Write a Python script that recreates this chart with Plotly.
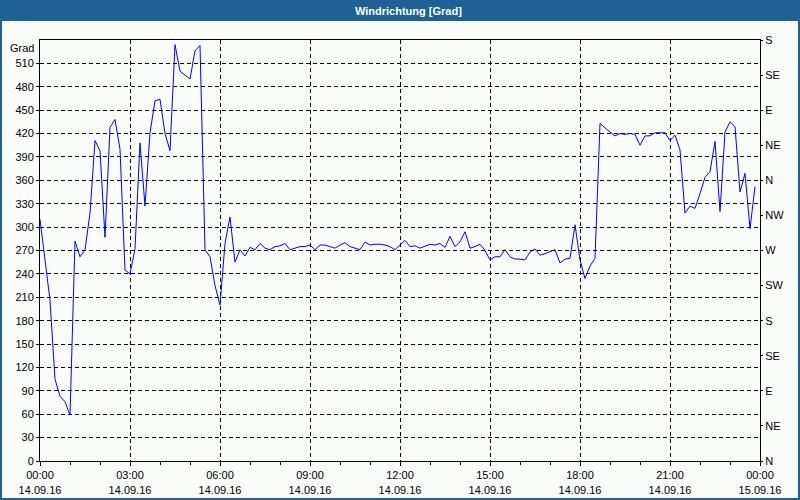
import pandas as pd
import plotly.graph_objects as go

# 10-minute readings, 14.09.16 00:00 .. 23:50
wind_dir = [
    310, 258, 206, 105, 83, 76, 59, 282, 262, 271,
    318, 411, 398, 287, 428, 438, 400, 245, 240, 272,
    408, 327, 421, 462, 464, 420, 398, 534, 500, 495,
    490, 526, 533, 271, 262, 225, 200, 279, 313, 255,
    271, 263, 274, 271, 279, 273, 271, 275, 276, 279,
    271, 273, 275, 275, 277, 271, 277, 277, 275, 273,
    277, 280, 275, 273, 271, 281, 277, 278, 278, 277,
    275, 271, 277, 283, 275, 276, 273, 276, 278, 277,
    279, 274, 288, 275, 281, 294, 273, 275, 278, 270,
    258, 262, 262, 271, 262, 259, 259, 258, 268, 272,
    264, 266, 268, 271, 254, 259, 260, 303, 258, 234,
    250, 260, 433, 427, 422, 417, 420, 419, 420, 419,
    405, 417, 417, 421, 421, 421, 411, 418, 399, 318,
    327, 324, 343, 364, 371, 410, 320, 422, 435, 429,
    345, 369, 298, 352,
]
times = pd.date_range("2016-09-14 00:00", periods=len(wind_dir), freq="10min")

x_tick_vals = pd.date_range("2016-09-14 00:00", "2016-09-15 00:00", freq="3h")
x_tick_text = ["00:00<br>14.09.16", "03:00<br>14.09.16", "06:00<br>14.09.16",
               "09:00<br>14.09.16", "12:00<br>14.09.16", "15:00<br>14.09.16",
               "18:00<br>14.09.16", "21:00<br>14.09.16", "00:00<br>15.09.16"]
y_tick_vals = list(range(0, 511, 30))
y2_tick_vals = list(range(0, 541, 45))
y2_tick_text = ["N", "NE", "E", "SE", "S", "SW", "W", "NW", "N", "NE", "E", "SE", "S"]

BG = "#f9fcf9"
FRAME = "#1d6196"
FONT = dict(family="Liberation Sans, Arial, sans-serif", size=11, color="black")

fig = go.Figure()
fig.add_trace(go.Scatter(x=times, y=wind_dir, mode="lines",
                         line=dict(color="#0000ff", width=1), hoverinfo="x+y"))
fig.add_trace(go.Scatter(x=times, y=wind_dir, mode="lines", yaxis="y2",
                         line=dict(color="rgba(0,0,0,0)", width=0), hoverinfo="skip"))

fig.update_layout(
    width=800, height=500,
    margin=dict(l=40, r=40, t=40, b=39, pad=0, autoexpand=False),
    paper_bgcolor=BG, plot_bgcolor=BG,
    showlegend=False,
    font=FONT,
    xaxis=dict(
        type="date", range=["2016-09-14 00:00", "2016-09-15 00:00"],
        tickmode="array", tickvals=list(x_tick_vals), ticktext=x_tick_text,
        ticks="outside", ticklen=4, tickcolor="black", tickfont=FONT,
        showgrid=True, gridcolor="black", gridwidth=1, griddash="4px,3px",
        showline=True, linecolor="black", linewidth=1, mirror=True,
        zeroline=False, fixedrange=True, automargin=False,
        minor=dict(dtick=3600000, ticks="outside", ticklen=3, tickcolor="black", showgrid=False),
    ),
    yaxis=dict(
        range=[0, 540], tickmode="array", tickvals=y_tick_vals,
        ticks="outside", ticklen=3, tickcolor="black", tickfont=FONT,
        showgrid=True, gridcolor="black", gridwidth=1, griddash="4px,3px",
        showline=True, linecolor="black", linewidth=1, mirror=True,
        zeroline=False, fixedrange=True, automargin=False,
    ),
    yaxis2=dict(
        range=[0, 540], overlaying="y", side="right",
        tickmode="array", tickvals=y2_tick_vals, ticktext=y2_tick_text,
        ticks="outside", ticklen=2, tickcolor="black", tickfont=FONT,
        showgrid=False, showline=False, zeroline=False, fixedrange=True,
        automargin=False,
    ),
)

# title bar and window frame (paper coords; plot area is 720x421 px at (40,40))
def px_x(p):
    return (p - 40) / 720.0

def px_y(p):
    return (461 - p) / 421.0

shapes = [
    dict(type="rect", xref="paper", yref="paper", x0=px_x(0), x1=px_x(800),
         y0=px_y(21), y1=px_y(0), fillcolor=FRAME, line=dict(width=0)),
    dict(type="rect", xref="paper", yref="paper", x0=px_x(0), x1=px_x(2),
         y0=px_y(500), y1=px_y(0), fillcolor=FRAME, line=dict(width=0)),
    dict(type="rect", xref="paper", yref="paper", x0=px_x(798), x1=px_x(800),
         y0=px_y(500), y1=px_y(0), fillcolor=FRAME, line=dict(width=0)),
    dict(type="rect", xref="paper", yref="paper", x0=px_x(0), x1=px_x(800),
         y0=px_y(500), y1=px_y(498), fillcolor=FRAME, line=dict(width=0)),
]
fig.update_layout(shapes=shapes)

fig.add_annotation(text="<b>Windrichtung [Grad]</b>", xref="paper", yref="paper",
                   x=px_x(409), y=px_y(10.5), xanchor="center", yanchor="middle",
                   showarrow=False, font=dict(family="Liberation Sans, Arial, sans-serif",
                                              size=11, color="white"))
fig.add_annotation(text="Grad", xref="paper", yref="y", x=0, y=540,
                   xanchor="right", yanchor="top", xshift=-4, yshift=0,
                   showarrow=False, font=FONT)

fig.write_html("out.html", config={"displayModeBar": False},
               post_script="document.body.style.margin='0';document.body.style.overflow='hidden';")
